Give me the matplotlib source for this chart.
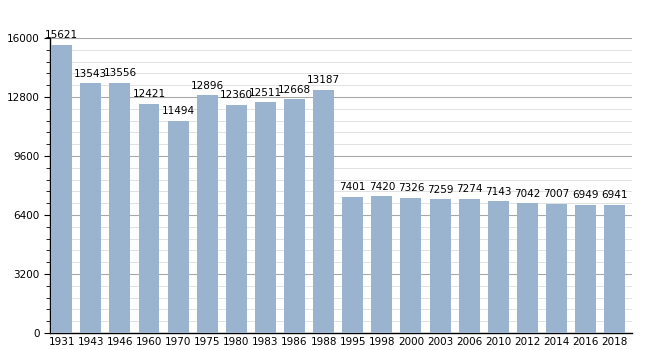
import numpy as np
import matplotlib.pyplot as plt
from matplotlib.ticker import MultipleLocator

years = ["1931", "1943", "1946", "1960", "1970", "1975", "1980", "1983", "1986", "1988",
         "1995", "1998", "2000", "2003", "2006", "2010", "2012", "2014", "2016", "2018"]
population = [15621, 13543, 13556, 12421, 11494, 12896, 12360, 12511, 12668, 13187,
              7401, 7420, 7326, 7259, 7274, 7143, 7042, 7007, 6949, 6941]

fig = plt.figure(figsize=(6.6, 3.5), dpi=100)
ax = fig.add_axes([0.0758, 0.0486, 0.882, 0.843])

pos = np.arange(len(years))
width = 0.72
ax.bar(pos + 0.04, population, width=width, align="edge", color="#9ab3cf", zorder=3)

for x, v in zip(pos, population):
    ax.text(x + 0.04 + width / 2, v + 250, str(v), ha="center", va="bottom",
            fontsize=7.5, zorder=4)

ax.set_xlim(0, len(years))
ax.set_ylim(0, 16000)
ax.set_xticks(pos + 0.04 + width / 2, years)
ax.yaxis.set_major_locator(MultipleLocator(3200))
ax.yaxis.set_minor_locator(MultipleLocator(640))

ax.grid(axis="y", which="major", color="#a8a8a8", linewidth=0.8, zorder=0)
ax.grid(axis="y", which="minor", color="#e2e2e2", linewidth=0.7, zorder=0)

ax.tick_params(axis="x", length=0, labelsize=7.5, pad=3)
ax.tick_params(axis="y", which="major", length=4, labelsize=7.5)
ax.tick_params(axis="y", which="minor", length=3)

for side in ["top", "right"]:
    ax.spines[side].set_visible(False)
ax.spines["left"].set_linewidth(1)
ax.spines["bottom"].set_linewidth(1)

fig.savefig("out.png", dpi=100)
